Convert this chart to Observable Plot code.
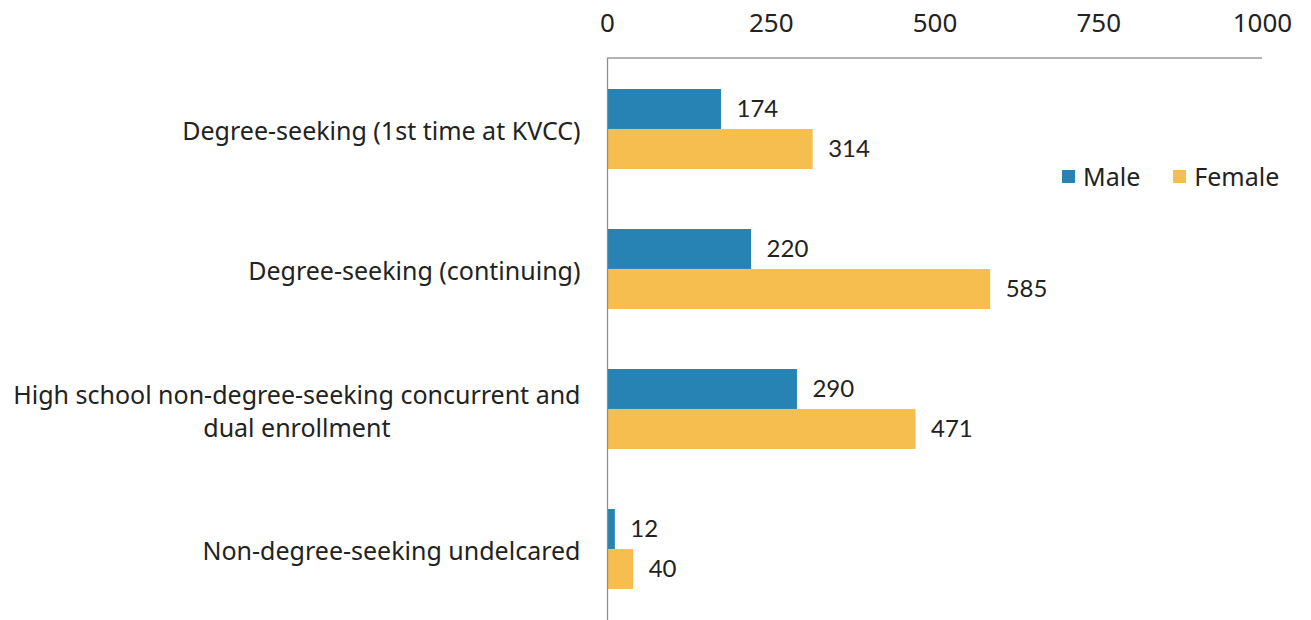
<!DOCTYPE html>
<html>
<head>
<meta charset="utf-8">
<script src="https://cdn.jsdelivr.net/npm/d3@7"></script>
<script src="https://cdn.jsdelivr.net/npm/@observablehq/plot@0.6"></script>
<style>
  html, body { margin: 0; padding: 0; background: #fff; }
  #chart { position: relative; width: 1311px; height: 620px; font-family: "Noto Sans", sans-serif; color: #222; }
  #legend { position: absolute; left: 1062px; top: 159px; display: flex; gap: 33px; font-size: 25px; align-items: center; }
  #legend .item { display: flex; align-items: center; gap: 8px; }
  #legend .sw { width: 13px; height: 13px; display: inline-block; }
</style>
</head>
<body>
<div id="chart"></div>
<script>
const categories = [
  "Degree-seeking (1st time at KVCC)",
  "Degree-seeking (continuing)",
  "High school non-degree-seeking concurrent and dual enrollment",
  "Non-degree-seeking undelcared"
];
const categoryLabels = [
  "Degree-seeking (1st time at KVCC)",
  "Degree-seeking (continuing)",
  "High school non-degree-seeking concurrent and\ndual enrollment",
  "Non-degree-seeking undelcared"
];
const genders = ["Male", "Female"];
const maleValues = [174, 220, 290, 12];
const femaleValues = [314, 585, 471, 40];
const xDomain = [0, 1000];
const xTicks = [0, 250, 500, 750, 1000];
const colors = ["#2683B3", "#F6BE4F"];

const W = 1311, H = 620, mT = 58, mB = 0, mL = 607, mR = 49;
const padInner = 0.43, padOuter = padInner / 2;
const band = (H - mT - mB) / categories.length * (1 - padInner);
const half = band / 2;

const male = categories.map((c, i) => ({category: c, gender: "Male", value: maleValues[i]}));
const female = categories.map((c, i) => ({category: c, gender: "Female", value: femaleValues[i]}));

// top axis line drawn from the x scale
const topLine = (index, scales, values, dims) => {
  const x = scales.x;
  return d3.create("svg:line")
    .attr("x1", x(xDomain[0])).attr("x2", x(xDomain[1]))
    .attr("y1", dims.marginTop).attr("y2", dims.marginTop)
    .attr("stroke", "#9a9a9a").attr("stroke-width", 1.3)
    .node();
};

const plot = Plot.plot({
  width: W, height: H,
  marginTop: mT, marginBottom: mB, marginLeft: mL, marginRight: mR,
  style: {fontFamily: "'Noto Sans', sans-serif", fontSize: "25px", color: "#222", background: "#fff", overflow: "visible"},
  x: {domain: xDomain, label: null},
  y: {domain: categories, paddingInner: padInner, paddingOuter: padOuter, label: null},
  color: {domain: genders, range: colors},
  marks: [
    Plot.axisX({anchor: "top", ticks: xTicks, tickSize: 0, tickPadding: 27, tickFormat: d => String(d), label: null, fontSize: 26}),
    Plot.axisY({anchor: "left", tickSize: 0, tickPadding: 27, label: null, lineHeight: 1.32,
      tickFormat: d => categoryLabels[categories.indexOf(d)]}),
    Plot.barX(male, {x: "value", y: "category", fill: "gender", insetBottom: half}),
    Plot.barX(female, {x: "value", y: "category", fill: "gender", insetTop: half}),
    Plot.text(male, {x: "value", y: "category", text: d => String(d.value), textAnchor: "start", dx: 15, dy: -half / 2, fill: "#222", fontFamily: "Lato, sans-serif", fontSize: 24}),
    Plot.text(female, {x: "value", y: "category", text: d => String(d.value), textAnchor: "start", dx: 15, dy: half / 2, fill: "#222", fontFamily: "Lato, sans-serif", fontSize: 24}),
    Plot.ruleX([0], {stroke: "#8f8f8f", strokeWidth: 1.3}),
    topLine
  ]
});

const chart = document.getElementById("chart");
chart.appendChild(plot);

// legend
const legend = document.createElement("div");
legend.id = "legend";
genders.forEach((g, i) => {
  const item = document.createElement("span");
  item.className = "item";
  const sw = document.createElement("span");
  sw.className = "sw";
  sw.style.background = colors[i];
  const t = document.createElement("span");
  t.textContent = g;
  item.appendChild(sw); item.appendChild(t);
  legend.appendChild(item);
});
chart.appendChild(legend);

// center multi-line labels within their block, keep block right-aligned
plot.querySelectorAll("text").forEach(text => {
  const tspans = text.querySelectorAll("tspan");
  if (tspans.length < 2) return;
  const bb = text.getBBox();
  const right = bb.x + bb.width;
  let maxW = 0;
  tspans.forEach(ts => { maxW = Math.max(maxW, ts.getComputedTextLength()); });
  text.setAttribute("text-anchor", "middle");
  tspans.forEach(ts => ts.setAttribute("x", right - maxW / 2));
});
</script>
</body>
</html>
